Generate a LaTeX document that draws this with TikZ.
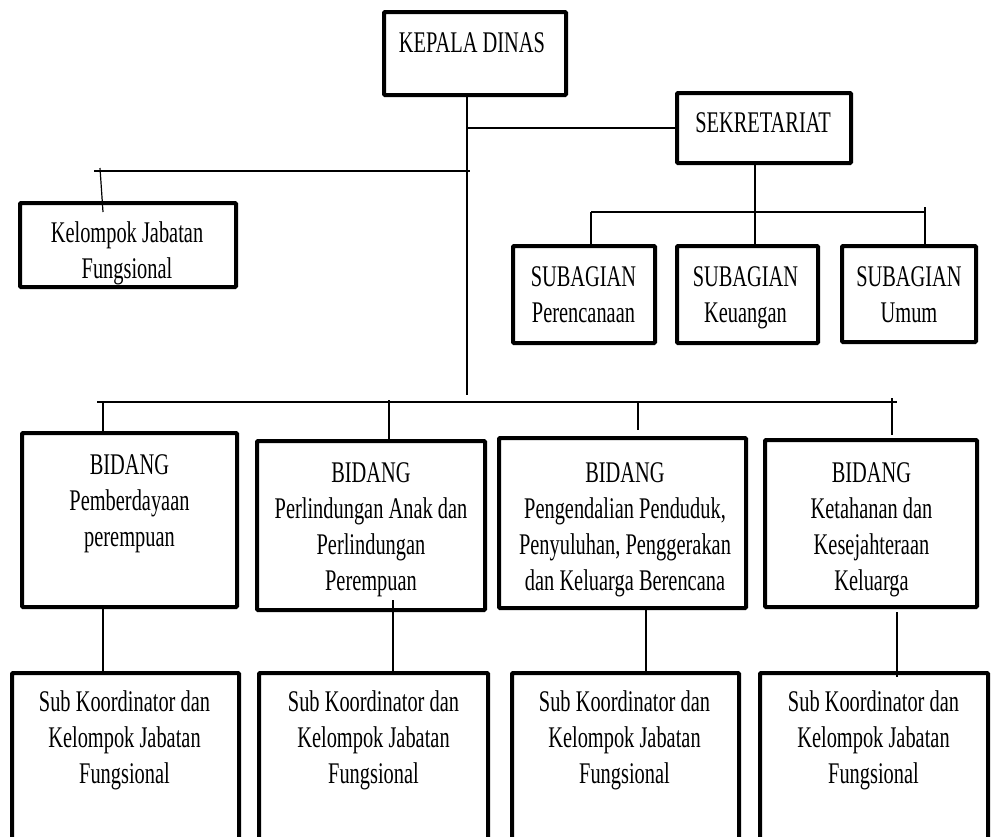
\documentclass[tikz,border=0pt]{standalone}
\usepackage{fontspec}
\setmainfont[FakeStretch=0.68]{Liberation Serif}
\usetikzlibrary{calc}
\begin{document}
\begin{tikzpicture}[x=1pt,y=-1pt,
  box/.style={draw, line width=4pt, rounded corners=1pt, inner sep=0pt, outer sep=0pt},
  txt/.style={anchor=north, align=center, inner sep=0pt, font=\fontsize{30}{36}\selectfont},
  conn/.style={line width=1.2pt}]
\useasboundingbox (0,0) rectangle (995,836);
\clip (0,0) rectangle (995,836);

% boxes
\node[box, minimum width=182pt, minimum height=83pt] (kd) at (475,53.5) {};
\node[box, minimum width=174pt, minimum height=70pt] (sek) at (764,128) {};
\node[box, minimum width=216pt, minimum height=84pt] (kfung) at (128,245) {};
\node[box, minimum width=142pt, minimum height=97pt] (per) at (584,294.5) {};
\node[box, minimum width=141pt, minimum height=97pt] (keu) at (747.5,294.5) {};
\node[box, minimum width=134pt, minimum height=96pt] (umum) at (909,294) {};
\node[box, minimum width=215pt, minimum height=174pt] (b1) at (129.5,520) {};
\node[box, minimum width=228pt, minimum height=169pt] (b2) at (371,525.5) {};
\node[box, minimum width=247pt, minimum height=170pt] (b3) at (622.5,523) {};
\node[box, minimum width=212pt, minimum height=167pt] (b4) at (871,523.5) {};
\node[box, minimum width=227pt, minimum height=190pt] (s1) at (125.5,768) {};
\node[box, minimum width=229pt, minimum height=190pt] (s2) at (373.5,768) {};
\node[box, minimum width=227pt, minimum height=190pt] (s3) at (625.5,768) {};
\node[box, minimum width=228pt, minimum height=190pt] (s4) at (874,768) {};

% texts
\node[txt] (kdt) at (472,32) {KEPALA DINAS};
\node[txt] (sekt) at (763,112) {SEKRETARIAT};
\node[txt] (kfungt) at (127,221) {Kelompok Jabatan\\Fungsional};
\node[txt] (pert) at (583.5,266) {SUBAGIAN\\Perencanaan};
\node[txt] (keut) at (745.5,266) {SUBAGIAN\\Keuangan};
\node[txt] (umumt) at (909,266) {SUBAGIAN\\Umum};
\node[txt] (b1t) at (129.5,454) {BIDANG\\Pemberdayaan\\perempuan};
\node[txt] (b2t) at (371,462) {BIDANG\\Perlindungan Anak dan\\Perlindungan\\Perempuan};
\node[txt] (b3t) at (625,462) {BIDANG\\Pengendalian Penduduk,\\Penyuluhan, Penggerakan\\dan Keluarga Berencana};
\node[txt] (b4t) at (871.5,462) {BIDANG\\Ketahanan dan\\Kesejahteraan\\Keluarga};
\node[txt] (s1t) at (124.5,690) {Sub Koordinator dan\\Kelompok Jabatan\\Fungsional};
\node[txt] (s2t) at (373.5,690) {Sub Koordinator dan\\Kelompok Jabatan\\Fungsional};
\node[txt] (s3t) at (624.5,690) {Sub Koordinator dan\\Kelompok Jabatan\\Fungsional};
\node[txt] (s4t) at (873.5,690) {Sub Koordinator dan\\Kelompok Jabatan\\Fungsional};

% main trunk
\coordinate (mb) at (467,395);
\draw[conn] (mb |- kd.south) -- (mb);
\draw[conn] (mb |- sek.west) -- (sek.west);

% kelompok jabatan fungsional branch
\coordinate (kl) at (94,171);
\coordinate (kr) at (470,171);
\draw[conn] (kl) -- (kr);
\coordinate (kt) at (100,168);
\draw[conn] (kt) -- ($(kfung.north)+(-25,9)$);

% sekretariat children
\coordinate (sv) at (755,212);
\draw[conn] (sv |- sek.south) -- (sv |- keu.north);
\coordinate (sl) at (591,212);
\coordinate (sr) at (925,212);
\draw[conn] (sl) -- (sr);
\draw[conn] (sl) -- (sl |- per.north);
\draw[conn] ($(sr)+(0,-5)$) -- (sr |- umum.north);

% bidang bus
\coordinate (bl) at (97,402);
\coordinate (br) at (897,402);
\draw[conn] (bl) -- (br);
\coordinate (t1) at (103,402);
\coordinate (t2) at (389,400);
\coordinate (t3) at (638,402);
\coordinate (t4) at (892,398);
\draw[conn] (t1) -- (t1 |- b1.north);
\draw[conn] (t2) -- ($(t2 |- b2.north)+(0,2)$);
\draw[conn] (t3) -- ($(t3 |- b3.north)+(0,-8)$);
\draw[conn] (t4) -- ($(t4 |- b4.north)+(0,-5)$);

% bidang to sub koordinator
\coordinate (v1) at (103,640);
\coordinate (v2) at (393,640);
\coordinate (v3) at (646,640);
\coordinate (v4) at (897,640);
\draw[conn] (v1 |- b1.south) -- (v1 |- s1.north);
\draw[conn] ($(v2 |- b2.south)+(0,-10)$) -- (v2 |- s2.north);
\draw[conn] (v3 |- b3.south) -- (v3 |- s3.north);
\draw[conn] ($(v4 |- b4.south)+(0,5)$) -- ($(v4 |- s4.north)+(0,4)$);
\end{tikzpicture}
\end{document}
